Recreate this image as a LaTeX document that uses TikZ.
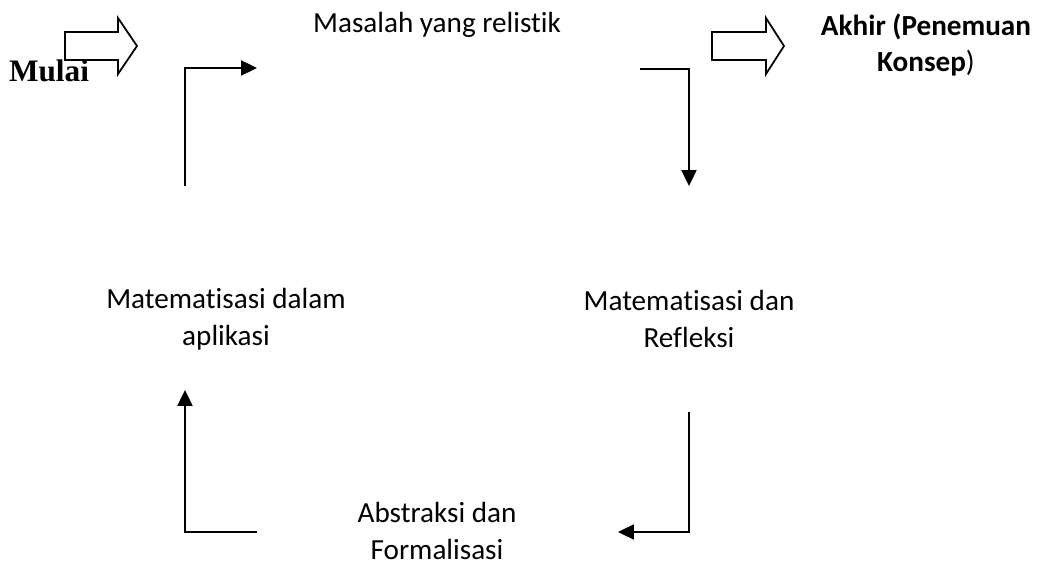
\documentclass[tikz,border=0pt]{standalone}
\usepackage{fontspec}
\setmainfont{Carlito}[Ligatures=NoCommon]
\newfontfamily\timesfont{Liberation Serif}
\usetikzlibrary{arrows.meta,positioning}

\tikzset{
  teks/.style={font=\fontsize{16.6}{21}\selectfont, align=center, inner sep=0pt},
  alur/.style={line width=1.1pt, -{Triangle[length=9pt,width=8.5pt]}},
  panahbesar/.style={line width=1pt, line join=miter},
}

\begin{document}
\begin{tikzpicture}[x=0.02cm,y=-0.02cm]
	\useasboundingbox (0,0) rectangle (1039,567);
	% teks
	\node[teks] (masalah) at (437,25) {Masalah yang relistik};
	\node[teks] (akhir) at (926,45) {\textbf{Akhir (Penemuan}\\\textbf{Konsep})};
	\node[teks] (aplikasi) at (226,319) {Matematisasi dalam\\aplikasi};
	\node[teks] (refleksi) at (689,319) {Matematisasi dan\\Refleksi};
	\node[teks] (abstraksi) at (437,531) {Abstraksi dan\\Formalisasi};
	\node[inner sep=0pt, font=\timesfont\bfseries\fontsize{17.8}{20}\selectfont] (mulai) at (49,71) {Mulai};
	% panah besar
	\draw[panahbesar] (65,32) -- (118,32) -- (118,18) -- (137,46) -- (118,74) -- (118,60) -- (65,60) -- cycle;
	\draw[panahbesar] (712,32) -- (766,32) -- (766,18) -- (784,46) -- (766,74) -- (766,60) -- (712,60) -- cycle;
	% siklus
	\coordinate (k1) at (185,186);
	\coordinate (k2) at (257,68);
	\coordinate (k3) at (640,69);
	\coordinate (k4) at (689,186);
	\coordinate (k5) at (689,412);
	\coordinate (k6) at (618,532);
	\coordinate (k7) at (257,532);
	\coordinate (k8) at (185,390);
	\draw[alur] (k1) |- (k2);
	\draw[alur] (k3) -| (k4);
	\draw[alur] (k5) |- (k6);
	\draw[alur] (k7) -| (k8);
\end{tikzpicture}
\end{document}
